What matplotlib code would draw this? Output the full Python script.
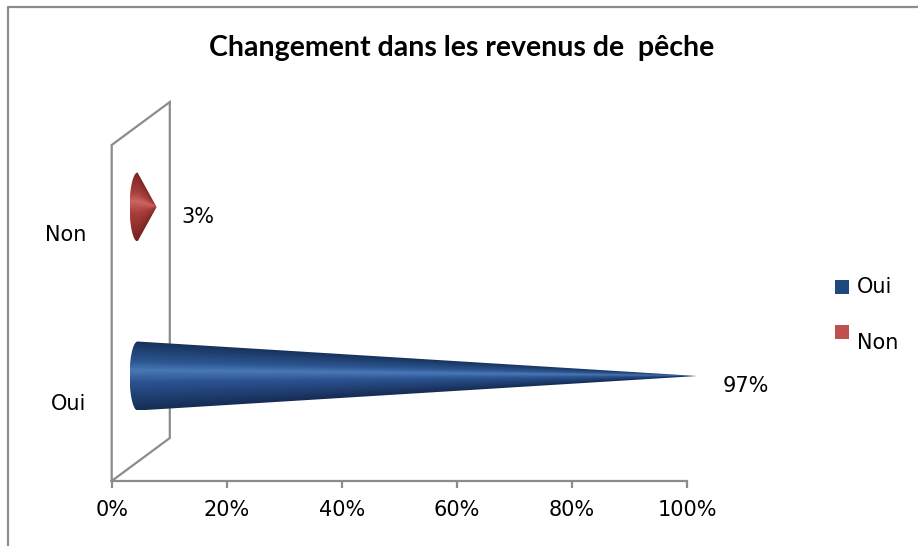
import numpy as np
import matplotlib.pyplot as plt
from matplotlib.patches import Polygon, Rectangle
from matplotlib.colors import LinearSegmentedColormap
from matplotlib.lines import Line2D

# données
categories = ["Oui", "Non"]
values = [97, 3]  # %
labels = ["97%", "3%"]
title = "Changement dans les revenus de  pêche"
xticks = [0, 20, 40, 60, 80, 100]

colors = ["#1F497D", "#C0504D"]
cmaps = [
    LinearSegmentedColormap.from_list("b", [(0, "#17305A"), (0.3, "#2C5792"), (0.42, "#4A78B6"),
                                             (0.6, "#2B5290"), (1, "#162D55")]),
    LinearSegmentedColormap.from_list("r", [(0, "#7A2321"), (0.3, "#A9403D"), (0.42, "#CC6461"),
                                             (0.6, "#A83E3B"), (1, "#75211F")]),
]

W, H = 918, 546
fig = plt.figure(figsize=(W / 100, H / 100), dpi=100)

# axes : x en %, y en pixels depuis l'axe horizontal
x0, x1 = 111.7, 687.0
yb, yt = 481, 100
ax = fig.add_axes([x0 / W, 1 - yb / H, (x1 - x0) / W, (yb - yt) / H])
ax.set_xlim(0, 100)
ax.set_ylim(0, yb - yt)
px = 100 / (x1 - x0)  # 1 pixel en unités x

grey = "#8C8C8C"
fs = 15
for s in ["top", "right", "left"]:
    ax.spines[s].set_visible(False)
ax.spines["bottom"].set_color(grey)
ax.spines["bottom"].set_linewidth(1.6)
ax.set_xticks(xticks)
ax.set_xticklabels([f"{t}%" for t in xticks], fontsize=fs)
ax.tick_params(axis="x", direction="out", length=5, width=1.6, color=grey, pad=9)

# paroi 3D
depth_x, depth_y = 10.1, 43
wall_top = 336
ax.plot([0, 0, depth_x, depth_x, 0], [0, wall_top, wall_top + depth_y, depth_y, 0],
        color=grey, lw=1.6, clip_on=False, solid_joinstyle="miter")

cat_y = [79, 248]
ax.set_yticks(cat_y)
ax.set_yticklabels(categories, fontsize=fs)
ax.tick_params(axis="y", length=0, pad=18)

# cônes
base_x = 4.5
hb = 34.5
ew = 8 * px
for i, v in enumerate(values):
    yc = cat_y[i] + 26
    tip = v + base_x + 0.3
    th = np.linspace(np.pi / 2, 3 * np.pi / 2, 60)
    ex = base_x + ew * np.cos(th)
    ey = yc + hb * np.sin(th)
    pts = np.column_stack([np.append(ex, tip), np.append(ey, yc)])
    poly = Polygon(pts, closed=True, facecolor="none", edgecolor="none", clip_on=False)
    ax.add_patch(poly)
    gx = np.linspace(base_x - ew, tip, 600)
    gy = np.linspace(yc - hb, yc + hb, 200)
    GX, GY = np.meshgrid(gx, gy)
    half = hb * np.clip(1 - (GX - base_x) / (tip - base_x), 0.02, 1)
    t = np.clip((yc - GY) / half * 0.5 + 0.5, 0, 1)  # 0 en haut, 1 en bas
    im = ax.imshow(t, cmap=cmaps[i], vmin=0, vmax=1, origin="lower",
                   extent=[gx[0], gx[-1], gy[0], gy[-1]], aspect="auto",
                   interpolation="bilinear", zorder=3)
    im.set_clip_path(poly)
    im.set_clip_box(fig.bbox)
    ax.text(tip + 25 * px, yc - 10, labels[i], fontsize=fs, va="center", ha="left")

ax.set_xlim(0, 100)
ax.set_ylim(0, yb - yt)

# titre
fig.text(462 / W, 1 - 48 / H, title, ha="center", va="center",
         fontsize=20.5, fontweight="bold", family=["Lato", "DejaVu Sans"])

# légende
leg_y = [287, 332]
leg_text_y = [287, 343]
for i, c in enumerate(categories):
    fig.add_artist(Rectangle((835 / W, 1 - (leg_y[i] + 7) / H), 14 / W, 14 / H,
                             transform=fig.transFigure, facecolor=colors[i], edgecolor="none"))
    fig.text(857 / W, 1 - leg_text_y[i] / H, c, fontsize=fs, va="center", ha="left")

# cadre
fig.add_artist(Line2D([8 / W, 8 / W, 1], [0, 1 - 7 / H, 1 - 7 / H],
                      transform=fig.transFigure, color=grey, lw=1.6))

fig.savefig("out.png", dpi=100)
